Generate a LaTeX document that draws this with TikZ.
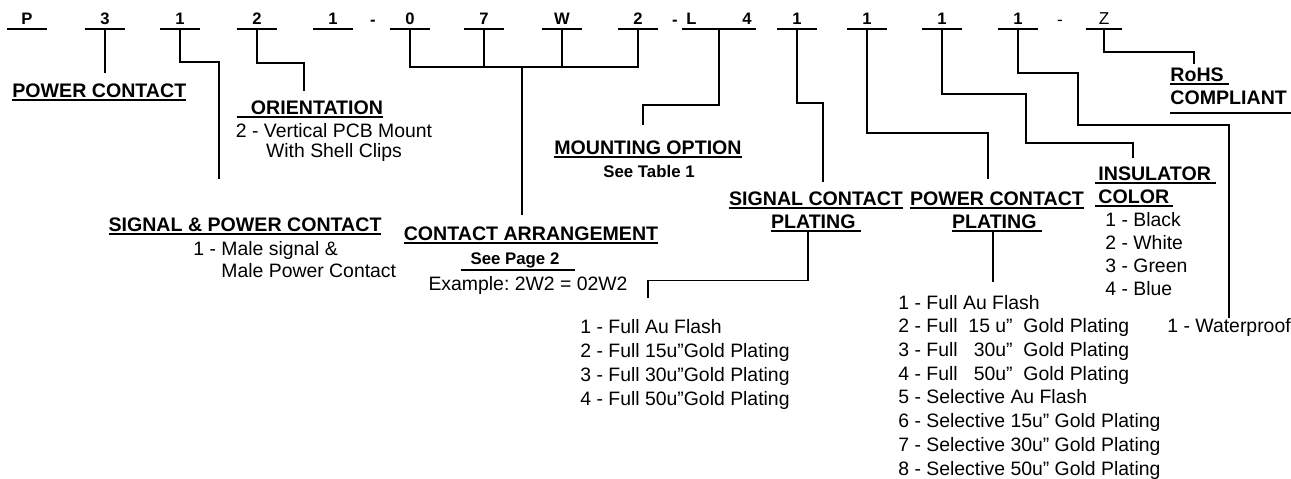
\documentclass[tikz,border=0pt]{standalone}
\usepackage{fontspec}
\setmainfont{Liberation Sans}
\usepackage{tikz}
\usetikzlibrary{positioning, calc}
\frenchspacing

\newcommand{\codefont}{\fontsize{8.3}{10}\selectfont\bfseries}
\newcommand{\zfont}{\fontsize{8.6}{10}\selectfont}
\newcommand{\headfont}{\fontsize{9.8}{11.5}\selectfont\bfseries}
\newcommand{\bodyfont}{\fontsize{9.7}{11.85}\selectfont}
\newcommand{\notefont}{\fontsize{8.4}{10}\selectfont\bfseries}
\newcommand{\ulbox}[2][0.9pt]{\vtop{\hbox{#2}\kern#1\hrule height 0.9pt}}

\begin{document}
\begin{tikzpicture}[
  x=0.5pt, y=-0.5pt,
  codebar/.style={line width=0.8pt},
  code/.style={font=\codefont, anchor=south, minimum width=19.5pt, inner xsep=0pt, inner ysep=2pt,
    text height=6pt, text depth=0pt,
    append after command={(\tikzlastnode.south west) edge[codebar] (\tikzlastnode.south east)}},
  hyph/.style={font=\codefont, anchor=base, inner sep=0pt},
  head/.style={font=\headfont, inner sep=0pt, align=center},
  txt/.style={font=\bodyfont, inner sep=0pt, align=left, anchor=base west},
  link/.style={line width=0.6pt}
]
\useasboundingbox (0,0) rectangle (1291,478);

% part number
\node[code] (c1) at (27,29) {P};
\node[code] (c2) at (105,29) {3};
\node[code] (c3) at (180,29) {1};
\node[code] (c4) at (257,29) {2};
\node[code] (c5) at (333,29) {1};
\node[hyph] (d1) at (373,25) {-};
\node[code] (c6) at (410,29) {0};
\node[code] (c7) at (484,29) {7};
\node[code] (c8) at (562,29) {W};
\node[code] (c9) at (638,29) {2};
\node[hyph] (d2) at (675,25) {-};
\node[code, minimum width=37pt] (c10) at (719,29) {L\hspace{23pt}4};
\node[code] (c11) at (797,29) {1};
\node[code] (c12) at (867,29) {1};
\node[code] (c13) at (942,29) {1};
\node[code] (c14) at (1018,29) {1};
\node[hyph, font=\zfont] (d3) at (1060,25) {-};
\node[code, font=\zfont, minimum width=18pt] (c15) at (1104,29) {Z};

% field labels (multi-line nodes sit on their last baseline)
\node[head, anchor=base west] (pwr) at (12,97) {\ulbox{POWER CONTACT}};
\node[head, anchor=base] (ori) at (310,114) {\ulbox{\hspace{7pt}ORIENTATION}};
\node[txt, align=center, anchor=base, font=\fontsize{9.7}{10}\selectfont] (ori-txt) at (334,157)
  {2 - Vertical PCB Mount\\With Shell Clips};
\node[head, anchor=base] (sp) at (245,231) {\ulbox{SIGNAL \& POWER CONTACT}};
\node[txt, font=\fontsize{9.7}{11}\selectfont] (sp-txt) at (193,277)
  {1 - Male signal \&\\\phantom{1 - }Male Power Contact};
\node[head, anchor=base] (ca) at (531,240) {\ulbox{CONTACT ARRANGEMENT}};
\node[head, font=\notefont, anchor=base] (ca-pg) at (518,264) {\ulbox{\hspace{5pt}See Page 2\hspace{8pt}}};
\node[txt, anchor=base] (ca-ex) at (528,290) {Example: 2W2 = 02W2};
\node[head, anchor=base] (mo) at (648,154) {\ulbox{MOUNTING OPTION}};
\node[head, font=\notefont, anchor=base] (mo-txt) at (649,177) {See Table 1};
\node[head, anchor=base] (scp) at (816,228) {\ulbox{SIGNAL CONTACT}\\\ulbox{PLATING\ }};
\node[head, anchor=base] (pcp) at (997,228) {\ulbox{POWER CONTACT}\\\ulbox{PLATING\ }};
\node[head, align=left, anchor=base west] (ins) at (1095,203)
  {\ulbox{\hspace{1.5pt}INSULATOR\ }\\\ulbox{\hspace{1.5pt}COLOR\hspace{2pt}}};
\node[txt, font=\fontsize{9.7}{11.5}\selectfont] (ins-txt) at (1105,295)
  {1 - Black\\2 - White\\3 - Green\\4 - Blue};
\node[head, align=left, anchor=base west] (rohs) at (1170,104)
  {\ulbox{RoHS\ }\\\ulbox[4pt]{COMPLIANT\hspace{4pt}}};
\node[txt] (wp) at (1167,332) {1 - Waterproof};

% plating lists
\node[txt] (sl) at (580,405)
  {1 - Full Au Flash\\2 - Full 15u”Gold Plating\\3 - Full 30u”Gold Plating\\4 - Full 50u”Gold Plating};
\node[txt] (pl) at (898,475)
  {1 - Full Au Flash\\2 - Full\ \ 15 u”\ \ Gold Plating\\3 - Full\ \ \ 30u”\ \ Gold Plating\\
   4 - Full\ \ \ 50u”\ \ Gold Plating\\5 - Selective Au Flash\\6 - Selective 15u” Gold Plating\\
   7 - Selective 30u” Gold Plating\\8 - Selective 50u” Gold Plating};

% free ends and bends of the leader lines
\coordinate (e2) at (104,73);
\coordinate (e3) at (219,179);
\coordinate (e4) at (304,91);
\coordinate (br) at (522,67);
\coordinate (e6) at (522,215);
\coordinate (e10) at (643,125);
\coordinate (e11) at (823,182);
\coordinate (e12) at (988,179);
\coordinate (k13) at (1026,143);
\coordinate (e13) at (1133,158);
\coordinate (k14) at (1078,125);
\coordinate (e15) at (1194,64);
\coordinate (e-sl) at (648,298);
\coordinate (e-pl) at (993,282);

\draw[link] (c2.south) -- (c2.south |- e2);
\draw[link] (c3.south) -- ++(0,33) -| (e3);
\draw[link] (c4.south) -- ++(0,34) -| (e4);
\draw[link] (c6.south) |- (br) -| (c9.south);
\draw[link] (c7.south) -- (c7.south |- br);
\draw[link] (c8.south) -- (c8.south |- br);
\draw[link] (br) -- (e6);
\draw[link] (c10.south) -- ++(0,76) -| (e10);
\draw[link] (c11.south) -- ++(0,74) -| (e11);
\draw[link] (c12.south) -- ++(0,104) -| (e12);
\draw[link] (c13.south) -- ++(0,65) -| (k13) -| (e13);
\draw[link] (c14.south) -- ++(0,44) -| (k14) -| (wp.north);
\draw[link] (c15.south) -- ++(0,23) -| (e15);
\draw[link] ([xshift=-4pt]scp.south) -- ++(0,48) -| (e-sl);
\draw[link] (pcp.south -| e-pl) -- (e-pl);

\end{tikzpicture}
\end{document}
